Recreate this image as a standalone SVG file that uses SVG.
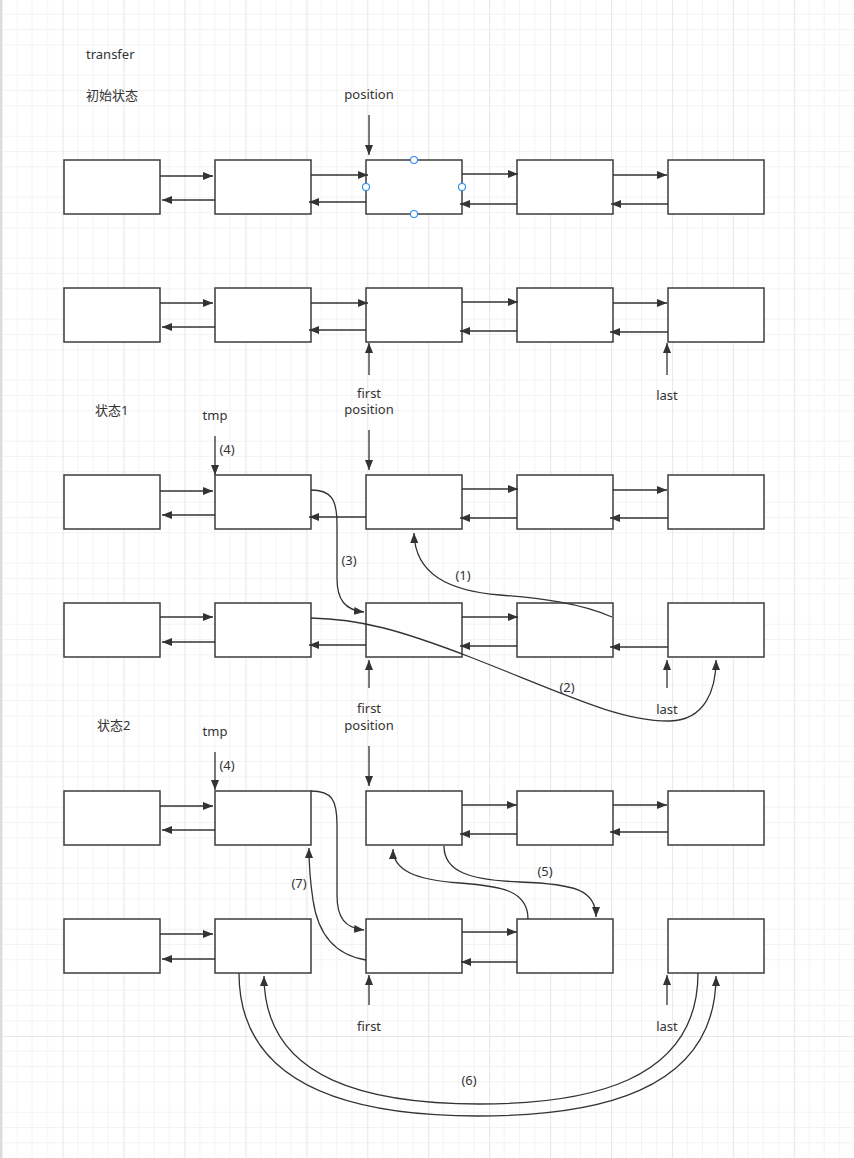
<svg xmlns="http://www.w3.org/2000/svg" width="854" height="1158" viewBox="0 0 854 1158">
<style>
.box{fill:#fff;stroke:#3d3d3d;stroke-width:1.5}
.ln{fill:none;stroke:#333;stroke-width:1.3;marker-end:url(#ah)}
.cva{fill:none;stroke:#333;stroke-width:1.3;marker-end:url(#ah)}
text{font-family:"Noto Sans","Noto Sans CJK SC",sans-serif;font-size:13px;fill:#333}
.c{text-anchor:middle}
.h{fill:#fff;stroke:#2a8cf0;stroke-width:1.1}
</style>
<defs>
<marker id="ah" markerUnits="userSpaceOnUse" markerWidth="10" markerHeight="8" refX="10" refY="4" orient="auto">
<path d="M0,0 L10,4 L0,8 Z" fill="#333"/>
</marker>
<pattern id="grid" patternUnits="userSpaceOnUse" x="1.6" y="-1" width="60.94" height="61">
<path d="M15.235 0V61M30.47 0V61M45.705 0V61M0 15.25H60.94M0 30.5H60.94M0 45.75H60.94" stroke="#f3f3f3" stroke-width="1" fill="none"/>
<path d="M0.5 0V61M0 0.5H60.94" stroke="#e7e7e7" stroke-width="1.2" fill="none"/>
</pattern>
</defs>
<rect width="854" height="1158" fill="#fff"/>
<rect width="854" height="1158" fill="url(#grid)"/>
<line x1="1" y1="0" x2="1" y2="1158" stroke="#dcdcdc" stroke-width="2"/>

<g id="labels">
<text x="86" y="58.5">transfer</text>
<text x="86" y="99.5">初始状态</text>
<text class="c" x="369" y="99">position</text>
<text class="c" x="369" y="397.5">first</text>
<text class="c" x="369" y="414">position</text>
<text class="c" x="667" y="399.5">last</text>
<text x="95" y="414.5">状态1</text>
<text class="c" x="215" y="419.5">tmp</text>
<text class="c" x="227" y="454">(4)</text>
<text class="c" x="349" y="565">(3)</text>
<text class="c" x="463" y="580">(1)</text>
<text class="c" x="567" y="692">(2)</text>
<text class="c" x="369" y="713">first</text>
<text class="c" x="369" y="729.5">position</text>
<text class="c" x="667" y="714">last</text>
<text x="97" y="729.5">状态2</text>
<text class="c" x="215" y="735.5">tmp</text>
<text class="c" x="227" y="769.5">(4)</text>
<text class="c" x="545" y="875.5">(5)</text>
<text class="c" x="299" y="887.5">(7)</text>
<text class="c" x="369" y="1030.5">first</text>
<text class="c" x="667" y="1030.5">last</text>
<text class="c" x="469" y="1084.5">(6)</text>
</g>

<g id="row1">
<rect id="r1n1" class="box" x="64" y="160" width="96" height="54"/>
<rect id="r1n2" class="box" x="215" y="160" width="96" height="54"/>
<rect id="r1n3" class="box" x="366" y="160" width="96" height="54"/>
<rect id="r1n4" class="box" x="517" y="160" width="96" height="54"/>
<rect id="r1n5" class="box" x="668" y="160" width="96" height="54"/>
</g>
<g id="row2">
<rect id="r2n1" class="box" x="64" y="288" width="96" height="54"/>
<rect id="r2n2" class="box" x="215" y="288" width="96" height="54"/>
<rect id="r2n3" class="box" x="366" y="288" width="96" height="54"/>
<rect id="r2n4" class="box" x="517" y="288" width="96" height="54"/>
<rect id="r2n5" class="box" x="668" y="288" width="96" height="54"/>
</g>
<g id="row3">
<rect id="r3n1" class="box" x="64" y="475" width="96" height="54"/>
<rect id="r3n2" class="box" x="215" y="475" width="96" height="54"/>
<rect id="r3n3" class="box" x="366" y="475" width="96" height="54"/>
<rect id="r3n4" class="box" x="517" y="475" width="96" height="54"/>
<rect id="r3n5" class="box" x="668" y="475" width="96" height="54"/>
</g>
<g id="row4">
<rect id="r4n1" class="box" x="64" y="603" width="96" height="54"/>
<rect id="r4n2" class="box" x="215" y="603" width="96" height="54"/>
<rect id="r4n3" class="box" x="366" y="603" width="96" height="54"/>
<rect id="r4n4" class="box" x="517" y="603" width="96" height="54"/>
<rect id="r4n5" class="box" x="668" y="603" width="96" height="54"/>
</g>
<g id="row5">
<rect id="r5n1" class="box" x="64" y="791" width="96" height="54"/>
<rect id="r5n2" class="box" x="215" y="791" width="96" height="54"/>
<rect id="r5n3" class="box" x="366" y="791" width="96" height="54"/>
<rect id="r5n4" class="box" x="517" y="791" width="96" height="54"/>
<rect id="r5n5" class="box" x="668" y="791" width="96" height="54"/>
</g>
<g id="row6">
<rect id="r6n1" class="box" x="64" y="919" width="96" height="54"/>
<rect id="r6n2" class="box" x="215" y="919" width="96" height="54"/>
<rect id="r6n3" class="box" x="366" y="919" width="96" height="54"/>
<rect id="r6n4" class="box" x="517" y="919" width="96" height="54"/>
<rect id="r6n5" class="box" x="668" y="919" width="96" height="54"/>
</g>

<g id="connectors">
<path class="ln" d="M160 176H213"/><path class="ln" d="M215 200H162"/>
<path class="ln" d="M311 175H368"/><path class="ln" d="M366 202H309"/>
<path class="ln" d="M462 174H518"/><path class="ln" d="M517 204H460"/>
<path class="ln" d="M613 175H667"/><path class="ln" d="M668 204H611"/>
<path class="ln" d="M369 115V155"/>
<path class="ln" d="M160 303H213"/><path class="ln" d="M215 327H162"/>
<path class="ln" d="M311 303H368"/><path class="ln" d="M366 330H309"/>
<path class="ln" d="M462 302H518"/><path class="ln" d="M517 331H460"/>
<path class="ln" d="M613 303H667"/><path class="ln" d="M668 332H610"/>
<path class="ln" d="M369 375V343"/><path class="ln" d="M667 375V343"/>
<path class="ln" d="M160 491H213"/><path class="ln" d="M215 515H162"/>
<path class="ln" d="M366 517H309"/>
<path class="ln" d="M462 489H518"/><path class="ln" d="M517 518H460"/>
<path class="ln" d="M613 490H667"/><path class="ln" d="M668 518H610"/>
<path class="ln" d="M215 436V475"/><path class="ln" d="M369 430V470"/>
<path class="ln" d="M160 617H213"/><path class="ln" d="M215 642H162"/>
<path class="ln" d="M366 645H309"/>
<path class="ln" d="M462 617H518"/><path class="ln" d="M517 646H460"/>
<path class="ln" d="M668 647H610"/>
<path class="ln" d="M369 688V660"/><path class="ln" d="M667 688V660"/>
<path class="ln" d="M160 806H213"/><path class="ln" d="M215 830H162"/>
<path class="ln" d="M462 805H517"/><path class="ln" d="M517 834H460"/>
<path class="ln" d="M613 805H667"/><path class="ln" d="M668 832H610"/>
<path class="ln" d="M215 752V790"/><path class="ln" d="M369 746V786"/>
<path class="ln" d="M160 934H213"/><path class="ln" d="M215 959H162"/>
<path class="ln" d="M462 932H517"/><path class="ln" d="M517 962H461"/>
<path class="ln" d="M369 1005V975"/><path class="ln" d="M667 1005V975"/>
<path class="cva" d="M311 490C332 490 337 500 337 525L337 578C337 600 345 610 364 612"/>
<path class="cva" d="M612 617C580 603 540 598 500 595C450 591 415 575 414 533"/>
<path class="cva" d="M311 618C360 619 400 630 470 657C560 692 620 722 670 721C705 720 716 690 716 660"/>
<path class="cva" d="M311 791C332 791 337 800 337 825L337 895C337 918 345 928 364 930"/>
<path class="cva" d="M366 960C335 955 318 935 313 900C310 880 309 865 309 848"/>
<path class="cva" d="M528 919C528 890 500 886 460 883C415 880 393 870 393 849"/>
<path class="cva" d="M444 846C444 872 470 880 520 882C575 884 596 890 596 917"/>
<path class="cva" d="M239 973C239 1095 370 1116 478 1116C590 1116 716 1095 716 976"/>
<path class="cva" d="M698 973C698 1083 585 1104 480 1104C375 1104 264 1083 264 976"/>
</g>

<g id="selection">
<circle class="h" cx="414" cy="160" r="3.5"/>
<circle class="h" cx="414" cy="214" r="3.5"/>
<circle class="h" cx="366" cy="187" r="3.5"/>
<circle class="h" cx="462" cy="187" r="3.5"/>
</g>
</svg>
